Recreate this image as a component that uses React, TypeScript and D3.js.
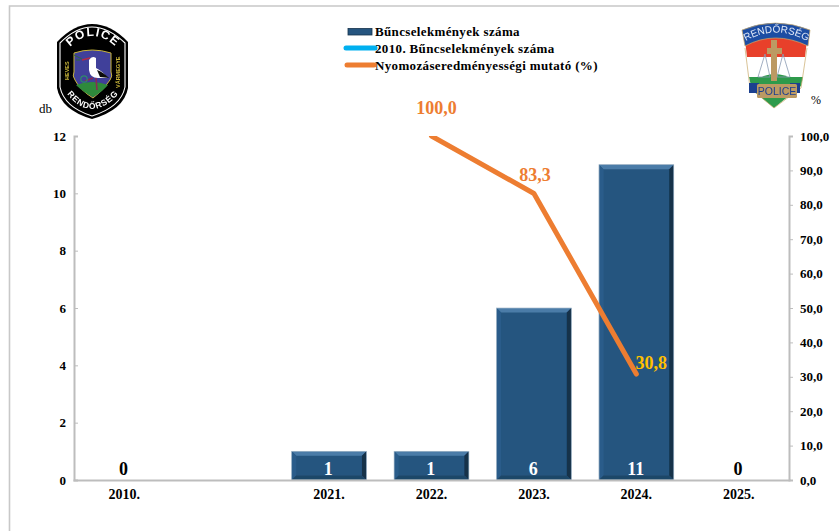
import React, { useEffect, useRef } from 'react';
import * as d3 from 'd3';

const categories = ['2010.', '', '2021.', '2022.', '2023.', '2024.', '2025.'];
const crimeCounts: (number | null)[] = [0, null, 1, 1, 6, 11, 0];
const rateYears = ['2022.', '2023.', '2024.'];
const rateValues = [100, 83.3, 30.8];
const rateLabels = ['100,0', '83,3', '30,8'];
const leftTicks = [0, 2, 4, 6, 8, 10, 12];
const rightTicks = [0, 10, 20, 30, 40, 50, 60, 70, 80, 90, 100];
const legendItems = ['Bűncselekmények száma', '2010. Bűncselekmények száma', 'Nyomozáseredményességi mutató (%)'];

const width = 839;
const height = 531;
const serif = '"Liberation Serif", "Times New Roman", serif';
const sans = '"Liberation Sans", sans-serif';

const x = d3.scaleBand<string>().domain(categories).range([73, 790]).paddingInner(0.27).paddingOuter(0.135);
const yCount = d3.scaleLinear().domain([0, 12]).range([480, 136]);
const yRate = d3.scaleLinear().domain([0, 100]).range([480, 136]);
const center = (c: string) => (x(c) ?? 0) + x.bandwidth() / 2;

const rateLine = d3.line<number>()
  .x((_, i) => center(rateYears[i]))
  .y(d => yRate(d));

// bar with bevelled edges like the office chart style
const Bar = ({ cat, value }: { cat: string; value: number }) => {
  const x0 = x(cat) ?? 0;
  const x1 = x0 + x.bandwidth();
  const y0 = yCount(value);
  const y1 = yCount(0);
  const b = 4.5;
  return (
    <g>
      <rect x={x0} y={y0} width={x1 - x0} height={y1 - y0} fill="#25557f" />
      <g filter="url(#soft)">
        <polygon points={`${x0},${y0} ${x1},${y0} ${x1 - b},${y0 + b} ${x0 + b},${y0 + b}`} fill="#4b7ca8" />
        <polygon points={`${x0},${y0} ${x0 + b},${y0 + b} ${x0 + b},${y1 - b} ${x0},${y1}`} fill="#2a5c8a" />
        <polygon points={`${x1},${y0} ${x1 - b},${y0 + b} ${x1 - b},${y1 - b} ${x1},${y1}`} fill="#14304a" />
        <polygon points={`${x0},${y1} ${x0 + b},${y1 - b} ${x1 - b},${y1 - b} ${x1},${y1}`} fill="#1e4668" />
      </g>
      <rect x={x0} y={y0} width={x1 - x0} height={y1 - y0} fill="none" stroke="#a9bccd" strokeWidth={0.7} />
    </g>
  );
};

const PoliceBadge = () => (
  <g filter="url(#soft)">
    <defs>
      <path id="arcTop" d="M 67 50 Q 92 22 119 50" />
      <path id="arcBottom" d="M 64 90 Q 91 128 122 90" />
    </defs>
    <path d="M 57 42 Q 74 24 92 24 Q 111 24 128 42 L 128 88 Q 124 110 92 119 Q 61 110 57 88 Z" fill="#000" />
    <path d="M 60 43 Q 76 27 92 27 Q 108 27 125 43 L 125 87 Q 121 107 92 116 Q 64 107 60 87 Z" fill="none" stroke="#fff" strokeWidth={1.1} />
    <text fontFamily={sans} fontSize={12} fontWeight="bold" fill="#fff" letterSpacing={1.2}>
      <textPath href="#arcTop" startOffset="50%" textAnchor="middle">POLICE</textPath>
    </text>
    <text fontFamily={sans} fontSize={8.5} fontWeight="bold" fill="#fff" letterSpacing={0.8}>
      <textPath href="#arcBottom" startOffset="50%" textAnchor="middle">RENDŐRSÉG</textPath>
    </text>
    <text transform="translate(69,80) rotate(-90)" fontFamily={sans} fontSize={5.5} fontWeight="bold" fill="#c9b53a">HEVES</text>
    <text transform="translate(120,88) rotate(-90)" fontFamily={sans} fontSize={5.5} fontWeight="bold" fill="#c9b53a">VÁRMEGYE</text>
    <path d="M 74 53 Q 92 47 111 53 L 111 72 Q 113 76 110 80 Q 104 90 93 98 Q 80 90 75 80 Q 72 76 74 72 Z" fill="#3f3f9a" stroke="#c9b53a" strokeWidth={1} />
    <path d="M 76 85 Q 92 79 108 85 Q 102 92 93 97 Q 83 92 76 85 Z" fill="#2f8a3a" />
    <path d="M 89 60 Q 92 55 96 58 L 96 68 Q 101 70 108 78 L 98 78 Q 90 78 89 70 Z" fill="#fff" />
    <path d="M 97 70 Q 103 72 109 78 L 100 77 Z" fill="#111" />
    <path d="M 90 58 L 82 60" stroke="#b32a45" strokeWidth={1.3} />
    <path d="M 82 59 L 74 55 M 80 60 L 76 60" stroke="#2c6a3a" strokeWidth={1} />
    <path d="M 96 78 L 97 90 M 93 78 L 85 81" stroke="#8a2a55" strokeWidth={1.6} />
    <circle cx={84} cy={79} r={3.2} fill="none" stroke="#2f8a6a" strokeWidth={1.2} />
  </g>
);

const CrestBadge = () => (
  <g filter="url(#soft)">
    <defs>
      <path id="arcCrest" d="M 746 41 Q 775 24 807 41" />
    </defs>
    <path d="M 746 45 L 806 45 L 803 78 L 749 78 Z" fill="#fff" />
    <path d="M 745 40 Q 775 30 807 40 L 805 57 L 747 57 Z" fill="#e8412c" />
    <path d="M 749 77 L 803 77 L 801 86 L 774 108 L 752 90 Z" fill="#2f9a4c" />
    <path d="M 756 80 Q 775 68 794 80 L 794 84 L 756 84 Z" fill="#2f9a4c" />
    <path d="M 745 48 L 750 88 L 774 108 L 801 88 L 807 48" fill="none" stroke="#c9a96a" strokeWidth={0.7} />
    <path d="M 742 30 Q 775 16 810 30 L 808 46 Q 775 30 745 46 Z" fill="#1f4ea3" stroke="#c9a96a" strokeWidth={0.7} />
    <rect x={771} y={40} width={6} height={41} fill="#bc9a63" />
    <rect x={767} y={48} width={15} height={6} fill="#bc9a63" />
    <path d="M 765 54 L 758 77 L 770 77 Z M 783 54 L 777 77 L 790 77 Z" fill="none" stroke="#8a9ab3" strokeWidth={0.8} />
    <rect x={749} y={83} width={10} height={10} fill="#1f3f8f" />
    <rect x={790} y={83} width={10} height={10} fill="#1f3f8f" />
    <rect x={757} y={84} width={40} height={14} rx={1.5} fill="#bc9a63" />
    <text x={777} y={95} textAnchor="middle" fontFamily={sans} fontSize={10.5} fill="#1f3f8f">POLICE</text>
    <text fontFamily={sans} fontSize={10} fill="#dfe8f7" dy={0}>
      <textPath href="#arcCrest" startOffset="50%" textAnchor="middle">RENDŐRSÉG</textPath>
    </text>
  </g>
);

export default function App() {
  const leftAxis = useRef<SVGGElement | null>(null);
  const rightAxis = useRef<SVGGElement | null>(null);
  const bottomAxis = useRef<SVGGElement | null>(null);

  useEffect(() => {
    const style = (g: d3.Selection<SVGGElement, unknown, null, undefined>, size: number) => {
      g.selectAll('path, line').attr('stroke', '#bdbdbd');
      g.select('path').attr('stroke-width', 2);
      g.selectAll('line').attr('stroke-width', 1);
      g.selectAll('text')
        .attr('font-family', serif)
        .attr('font-size', size)
        .attr('font-weight', 'bold')
        .attr('fill', '#000');
    };
    d3.select(leftAxis.current!)
      .call(d3.axisLeft(yCount).tickValues(leftTicks).tickFormat(d3.format('d')).tickSize(-4).tickSizeOuter(-4).tickPadding(8) as any)
      .call(style as any, 13);
    d3.select(rightAxis.current!)
      .call(d3.axisRight(yRate).tickValues(rightTicks).tickFormat(d => (d as number).toFixed(1).replace('.', ',')).tickSize(4).tickSizeOuter(4).tickPadding(7) as any)
      .call(style as any, 13);
    d3.select(bottomAxis.current!)
      .call(d3.axisBottom(x).tickSize(0).tickPadding(9).tickSizeOuter(0) as any)
      .call(style as any, 14);
  }, []);

  return (
    <svg width={width} height={height} viewBox={`0 0 ${width} ${height}`} style={{ position: 'absolute', left: 0, top: 0, display: 'block' }}>
      <defs>
        <filter id="soft"><feGaussianBlur stdDeviation="0.4" /></filter>
        <clipPath id="plotClip"><rect x={73} y={136} width={717} height={344} /></clipPath>
      </defs>
      <rect width={width} height={height} fill="#fff" />
      <path d="M 9.5 531 L 9.5 6 L 839 6" fill="none" stroke="#c8c8c8" strokeWidth={1.6} />

      <PoliceBadge />
      <CrestBadge />

      <text x={39} y={113} fontFamily={serif} fontSize={13}>db</text>
      <text x={811} y={104} fontFamily={serif} fontSize={12}>%</text>

      {categories.map((c, i) => {
        const v = crimeCounts[i];
        return v ? <Bar key={c} cat={c} value={v} /> : null;
      })}

      <g ref={bottomAxis} transform="translate(0,480)" />
      <g ref={leftAxis} transform="translate(74,0)" />
      <g ref={rightAxis} transform="translate(789,0)" />

      <path
        d={rateLine(rateValues) ?? ''}
        fill="none"
        stroke="#ed7d31"
        strokeWidth={5}
        strokeLinecap="round"
        strokeLinejoin="round"
        clipPath="url(#plotClip)"
      />

      {categories.map((c, i) => {
        const v = crimeCounts[i];
        if (v === null) return null;
        return (
          <text key={c} x={center(c) - 0.7} y={475} textAnchor="middle" fontFamily={serif} fontSize={18} fontWeight="bold" fill={v === 0 ? '#000' : '#fff'}>
            {v}
          </text>
        );
      })}

      {rateLabels.map((t, i) => (
        <text
          key={t}
          x={center(rateYears[i]) + [5, 1, 15][i]}
          y={yRate(rateValues[i]) + [-22, -12, -5][i]}
          textAnchor="middle"
          fontFamily={serif}
          fontSize={18}
          fontWeight="bold"
          fill={i === 2 ? '#ffc000' : '#ed7d31'}
        >
          {t}
        </text>
      ))}

      <g fontFamily={serif} fontSize={13} fontWeight="bold">
        {legendItems.map((t, i) => (
          <text key={t} x={375} y={36 + i * 16.8} letterSpacing={0.35}>{t}</text>
        ))}
      </g>
      <rect x={348} y={28.5} width={24} height={6.5} fill="#25557f" stroke="#16324c" strokeWidth={0.8} />
      <line x1={346} x2={375} y1={48} y2={48} stroke="#00b0f0" strokeWidth={5} strokeLinecap="round" />
      <line x1={347} x2={374} y1={65} y2={65} stroke="#ed7d31" strokeWidth={5} strokeLinecap="round" />
    </svg>
  );
}
